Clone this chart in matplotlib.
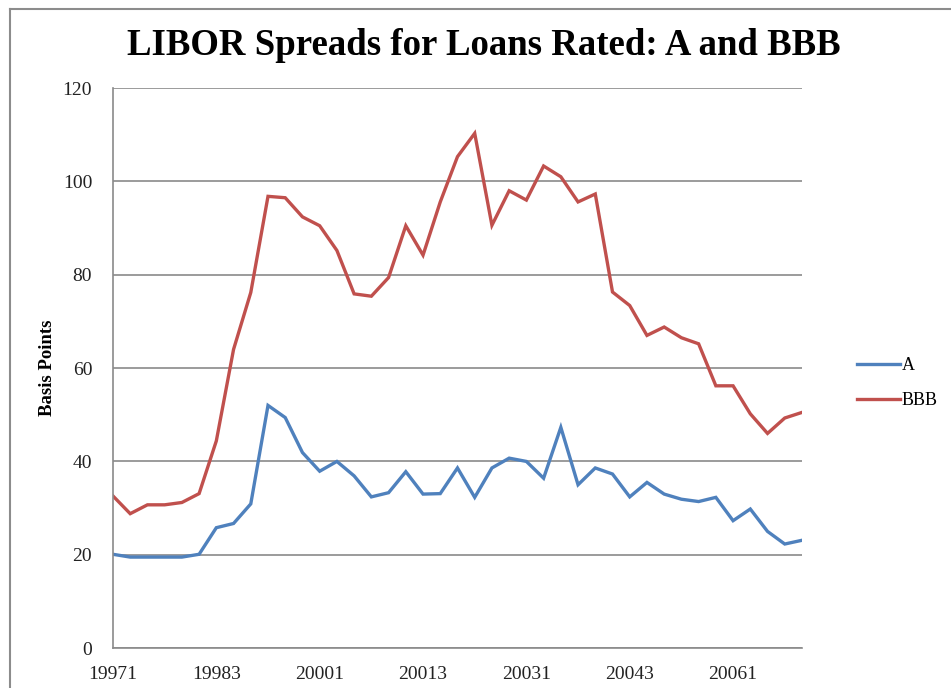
"""LIBOR spreads for A and BBB rated loans, quarterly 1997Q1-2007Q1."""

import matplotlib

matplotlib.use("Agg")

import matplotlib.pyplot as plt  # noqa: E402
from matplotlib.lines import Line2D  # noqa: E402


QUARTERS = [f"{year}{q}" for year in range(1997, 2008) for q in range(1, 5)][:41]

SPREAD_A = [
    20.1, 19.5, 19.5, 19.5, 19.5, 20.1, 25.8, 26.7, 30.9, 52.0,
    49.4, 41.9, 37.9, 40.0, 36.9, 32.4, 33.3, 37.8, 33.0, 33.1,
    38.6, 32.3, 38.6, 40.7, 40.0, 36.4, 47.3, 35.0, 38.6, 37.3,
    32.4, 35.5, 33.0, 31.9, 31.4, 32.3, 27.3, 29.8, 25.0, 22.3,
    23.1,
]

SPREAD_BBB = [
    32.6, 28.8, 30.7, 30.7, 31.2, 33.1, 44.4, 64.0, 76.2, 96.8,
    96.5, 92.4, 90.5, 85.2, 75.9, 75.4, 79.4, 90.5, 84.2, 95.6,
    105.3, 110.3, 90.6, 98.0, 96.0, 103.3, 101.0, 95.6, 97.3, 76.3,
    73.4, 67.0, 68.8, 66.5, 65.2, 56.2, 56.2, 50.2, 46.0, 49.3,
    50.5,
]

SERIES = [("A", SPREAD_A, "#4F81BD"), ("BBB", SPREAD_BBB, "#C0504D")]

Y_TICKS = [0, 20, 40, 60, 80, 100, 120]
LABEL_EVERY = 6

SERIF = ["Liberation Serif", "DejaVu Serif"]
GRID_COLOR = "#8a8a8a"


def main() -> None:
    fig = plt.figure(figsize=(9.51, 6.88), dpi=100)
    ax = fig.add_axes([0.1188, 0.058, 0.7245, 0.814])

    x = list(range(len(QUARTERS)))
    for name, values, color in SERIES:
        ax.plot(x, values, color=color, linewidth=2.4, label=name,
                solid_joinstyle="miter")

    ax.set_xlim(0, len(QUARTERS) - 1)
    ax.set_ylim(0, 120)
    ax.set_yticks(Y_TICKS)
    ax.set_xticks(x[::LABEL_EVERY])
    ax.set_xticklabels(QUARTERS[::LABEL_EVERY])
    ax.tick_params(length=0, labelsize=14, labelcolor="#222222")
    ax.tick_params(axis="y", pad=15)
    ax.tick_params(axis="x", pad=13)
    for label in ax.get_xticklabels() + ax.get_yticklabels():
        label.set_family(SERIF)

    ax.yaxis.grid(True, color=GRID_COLOR, linewidth=1.2)
    ax.set_axisbelow(True)
    for side in ("top", "right"):
        ax.spines[side].set_visible(False)
    for side in ("left", "bottom"):
        ax.spines[side].set_color(GRID_COLOR)
        ax.spines[side].set_linewidth(1.2)

    ax.set_ylabel("Basis Points", family=SERIF, fontweight="bold",
                  fontsize=13.5, labelpad=5)

    fig.text(0.509, 0.934, "LIBOR Spreads for Loans Rated: A and BBB",
             ha="center", va="center", family=SERIF, fontweight="bold",
             fontsize=26.5)

    ax.legend(loc="center left", bbox_to_anchor=(1.056, 0.473), frameon=False,
              prop={"family": SERIF, "size": 13}, handlelength=2.4,
              handletextpad=0.1, labelspacing=1.0)

    # outer chart frame
    fig.add_artist(Line2D([10 / 951, 10 / 951], [0, 1 - 9 / 688],
                          transform=fig.transFigure, color="#8c8c8c", linewidth=1.5))
    fig.add_artist(Line2D([10 / 951, 1], [1 - 9 / 688, 1 - 9 / 688],
                          transform=fig.transFigure, color="#8c8c8c", linewidth=1.5))

    fig.savefig("out.png", dpi=100)
    plt.close(fig)


if __name__ == "__main__":
    main()
